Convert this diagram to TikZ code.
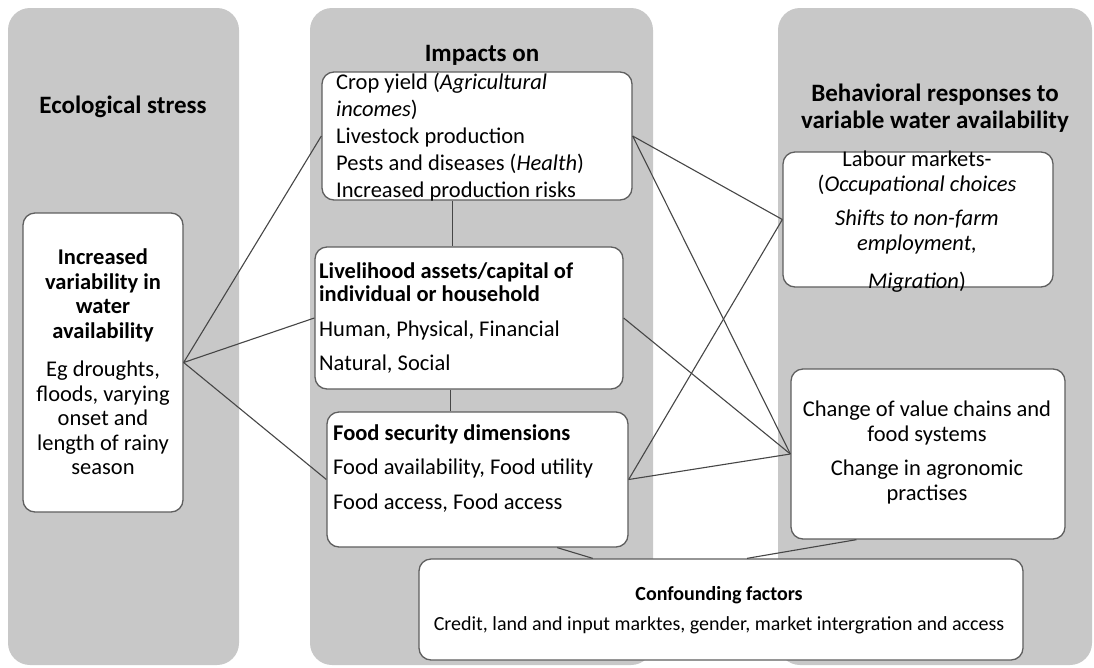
\documentclass[tikz,border=0pt]{standalone}
\usepackage{fontspec}
\setmainfont{Carlito}
\usetikzlibrary{fit,calc}
\definecolor{panelgrey}{RGB}{200,200,200}
\definecolor{boxline}{RGB}{95,95,95}
\definecolor{linkline}{RGB}{70,70,70}
\newcommand{\panel}[4]{ \fill[panelgrey, rounded corners=22pt] ( #1 , #2 ) rectangle ( #3 , #4 );}
\newcommand{\infobox}[5]{ \node[infobox, fit={( #2 , #3 ) ( #4 , #5 )}] (#1) {};}
\newcommand{\headfont}{\fontsize{25}{27}\selectfont\bfseries}
\newcommand{\bodyfont}{\fontsize{22.5}{24.5}\selectfont}
\newcommand{\smallbody}{\fontsize{20}{20}\selectfont}
\tikzset{
  infobox/.style={draw=boxline, fill=white, line width=1.3pt, rounded corners=12pt, inner sep=0pt},
  link/.style={draw=linkline, line width=1.1pt},
  headtext/.style={inner sep=0pt, font=\headfont, align=center},
  boxtext/.style={inner sep=0pt, font=\bodyfont}
}
\begin{document}
\begin{tikzpicture}[x=1pt,y=-1pt]
        \useasboundingbox (0,0) rectangle (1094,667);
        \fill[white] (0,0) rectangle (1094,667);
        % columns
        \panel{8}{8}{239}{665}
        \panel{310}{8}{653}{665}
        \panel{778}{8}{1092}{665}

        % headings
        \node[headtext] (ecohead) at (123,107) {Ecological stress};
        \node[headtext] (imphead) at (482,55) {Impacts on};
        \node[headtext] (behhead) at (935,108) {Behavioral responses to\\variable water availability};

        % boxes
        \infobox{eco}{23}{213}{183}{512}
        \infobox{crop}{322}{72}{632}{200}
        \infobox{liv}{315}{247}{623}{389}
        \infobox{food}{327}{412}{628}{547}
        \infobox{labour}{783}{152}{1053}{287}
        \infobox{change}{791}{369}{1065}{539}
        \infobox{conf}{419}{559}{1023}{660}

        % texts of the boxes
        \node[boxtext, anchor=north, align=center] (ecotext) at (103,249)
          {\textbf{Increased}\\\textbf{variability in}\\\textbf{water}\\\textbf{availability}\\[14pt]Eg droughts,\\floods, varying\\onset and\\length of rainy\\season};
        \node[boxtext, anchor=north west, align=left, font=\fontsize{22.5}{27}\selectfont] (croptext) at (336,73)
          {Crop yield (\textit{Agricultural}\\\textit{incomes})\\Livestock production\\Pests and diseases (\textit{Health})\\Increased production risks};
        \node[boxtext, anchor=north west, align=left, font=\fontsize{22.5}{23}\selectfont] (livtext) at (319,263)
          {\textbf{Livelihood assets/capital of}\\\textbf{individual or household}\\[12pt]Human, Physical, Financial\\[11pt]Natural, Social};
        \node[boxtext, anchor=north west, align=left, font=\fontsize{22.5}{23}\selectfont] (foodtext) at (333,425)
          {\textbf{Food security dimensions}\\[11pt]Food availability, Food utility\\[12pt]Food access, Food access};
        \node[boxtext, anchor=north, align=center] (labourtext) at (917,151)
          {Labour markets-\\(\textit{Occupational choices}\\[10pt]\textit{Shifts to non-farm}\\\textit{employment,}\\[14pt]\textit{Migration})};
        \node[boxtext, anchor=north, align=center] (changetext) at (927,401)
          {Change of value chains and\\food systems\\[10pt]Change in agronomic\\practises};
        \node[boxtext, anchor=north, align=center, font=\smallbody] (conftext) at (719,586)
          {\textbf{Confounding factors}\\[10pt]Credit, land and input marktes, gender, market intergration and access};

        % points on box borders
        \coordinate (cropdown) at ($(crop.south west)!0.42!(crop.south east)$);
        \coordinate (livdown) at ($(liv.south west)!0.44!(liv.south east)$);
        \coordinate (fooddown) at ($(food.south west)!0.764!(food.south east)$);
        \coordinate (changedown) at ($(change.south west)!0.24!(change.south east)$);
        \coordinate (confleft) at ($(conf.north west)!0.288!(conf.north east)$);
        \coordinate (confright) at ($(conf.north west)!0.543!(conf.north east)$);

        % links
        \draw[link] (eco.east) -- (crop.west);
        \draw[link] (eco.east) -- (liv.west);
        \draw[link] (eco.east) -- (food.west);
        \draw[link] (cropdown) -- (cropdown |- liv.north);
        \draw[link] (livdown) -- (livdown |- food.north);
        \draw[link] (crop.east) -- (labour.west);
        \draw[link] (crop.east) -- (change.west);
        \draw[link] (liv.east) -- (change.west);
        \draw[link] (food.east) -- (labour.west);
        \draw[link] (food.east) -- (change.west);
        \draw[link] (fooddown) -- (confleft);
        \draw[link] (changedown) -- (confright);
    \end{tikzpicture}
\end{document}
